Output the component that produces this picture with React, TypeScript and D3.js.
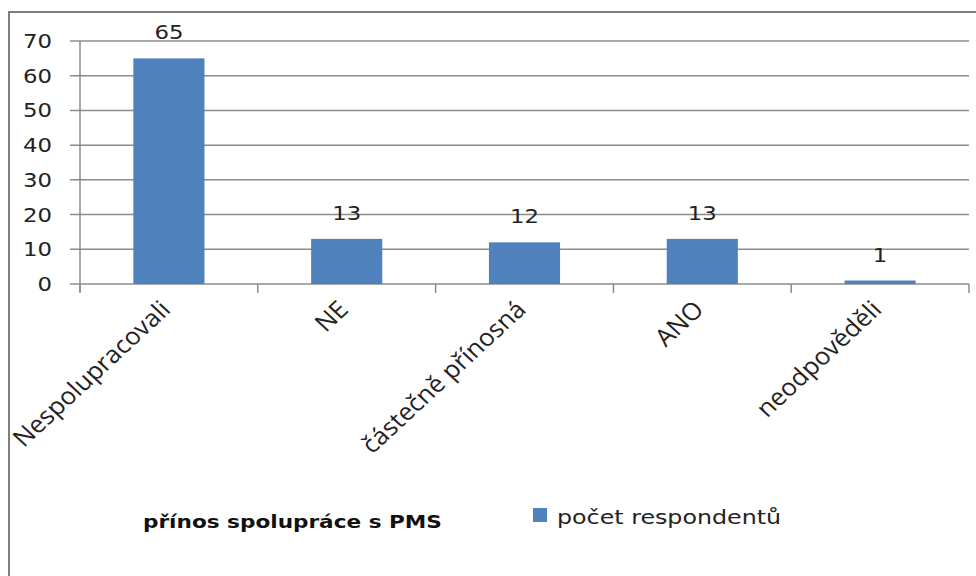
import React from "react";
import * as d3 from "d3";

const categories = ["Nespolupracovali", "NE", "částečně přínosná", "ANO", "neodpověděli"];
const values = [65, 13, 12, 13, 1];
const yTicks = [0, 10, 20, 30, 40, 50, 60, 70];
const seriesName = "počet respondentů";
const axisTitle = "přínos spolupráce s PMS";

const W = 976;
const H = 576;
const FONT = "DejaVu Sans, sans-serif";
const LFONT = "'Open Sans', sans-serif";
const SX = 1.2;

export default function App() {
  const left = 80, right = 969, top = 41, bottom = 284;
  const x = d3.scaleBand<string>().domain(categories).range([left, right]).paddingInner(0.6).paddingOuter(0.3);
  const y = d3.scaleLinear().domain([0, 70]).range([bottom, top]);
  const boundaries = d3.range(categories.length + 1).map((i) => left + i * ((right - left) / categories.length));
  const grid = "#8c8c8c";
  return (
    <svg width={W} height={H} style={{ position: "absolute", left: 0, top: 0, background: "#fff" }}>
      <rect x={9} y={12} width={1200} height={1000} fill="#fff" stroke="#7f7f7f" strokeWidth={2} />
      {yTicks.map((t) => (
        <line key={"g" + t} x1={left - 10} x2={right} y1={y(t)} y2={y(t)} stroke={grid} strokeWidth={1.5} />
      ))}
      <line x1={left} x2={left} y1={top} y2={bottom + 8} stroke={grid} strokeWidth={1.5} />
      {boundaries.map((b, i) => (
        <line key={"b" + i} x1={b} x2={b} y1={bottom} y2={bottom + 9} stroke={grid} strokeWidth={1.5} />
      ))}
      {yTicks.map((t) => (
        <g key={"yl" + t} transform={`translate(52,${y(t) + 7}) scale(${SX},1)`}>
          <text textAnchor="end" fontFamily={FONT} fontSize={19} fill="#222">{t}</text>
        </g>
      ))}
      {categories.map((c, i) => {
        const bx = x(c)!;
        const bw = x.bandwidth();
        return (
          <g key={c}>
            <rect x={bx} y={y(values[i])} width={bw} height={bottom - y(values[i])} fill="#4f81bd" />
            <g transform={`translate(${bx + bw / 2},${y(values[i]) - 19}) scale(${SX},1)`}>
              <text textAnchor="middle" fontFamily={FONT} fontSize={19} fill="#222">{values[i]}</text>
            </g>
            <g transform={`translate(${bx + bw / 2 + 3},${bottom + 27}) scale(1.08,1) rotate(-45)`}>
              <text textAnchor="end" fontFamily={LFONT} fontSize={24} fill="#222">{c}</text>
            </g>
          </g>
        );
      })}
      <g transform={`translate(143,528) scale(${SX},1)`}>
        <text fontFamily={FONT} fontSize={18} fontWeight="bold" fill="#111">{axisTitle}</text>
      </g>
      <rect x={533} y={508} width={14} height={14} fill="#4f81bd" />
      <g transform={`translate(557,524) scale(${SX},1)`}>
        <text fontFamily={FONT} fontSize={19.8} fill="#222">{seriesName}</text>
      </g>
    </svg>
  );
}
